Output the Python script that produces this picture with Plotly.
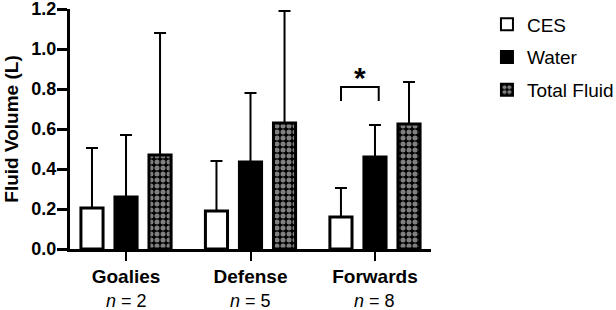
import plotly.graph_objects as go

categories = ["Goalies", "Defense", "Forwards"]
n_labels = ["2", "5", "8"]
ces = [0.205, 0.19, 0.16]
ces_upper = [0.505, 0.44, 0.305]
water = [0.26, 0.435, 0.46]
water_upper = [0.57, 0.78, 0.62]
total = [0.47, 0.63, 0.625]
total_upper = [1.08, 1.19, 0.835]
y_ticks = [0.0, 0.2, 0.4, 0.6, 0.8, 1.0, 1.2]

FONT = "Liberation Sans, Arial, Helvetica, sans-serif"

def err(vals, upper):
    return dict(type="data", symmetric=False,
                array=[u - v for u, v in zip(upper, vals)],
                arrayminus=[0] * len(vals),
                color="black", thickness=2, width=6)

fig = go.Figure()
fig.add_trace(go.Bar(name="CES", x=categories, y=ces, error_y=err(ces, ces_upper),
                     legendgroup="a",
                     marker=dict(color="white", line=dict(color="black", width=3))))
fig.add_trace(go.Bar(name="Water", x=categories, y=water, error_y=err(water, water_upper),
                     legendgroup="b",
                     marker=dict(color="black", line=dict(color="black", width=3))))
fig.add_trace(go.Bar(name="Total Fluid", x=categories, y=total, error_y=err(total, total_upper),
                     legendgroup="c",
                     marker=dict(color="black", line=dict(color="black", width=3),
                                 pattern=dict(shape=".", fgcolor="white", bgcolor="black",
                                              size=6, solidity=0.55))))

# significance bracket between CES and Water of Forwards
fig.add_shape(type="path", xref="x", yref="y",
              path="M 1.727 0.74 L 1.727 0.81 L 2.03 0.81 L 2.03 0.74",
              line=dict(color="black", width=2))
fig.add_annotation(x=1.88, y=0.86, xref="x", yref="y", text="<b>*</b>",
                   showarrow=False, font=dict(size=30, color="black", family=FONT))

# group sizes under category labels
for c, n in zip(categories, n_labels):
    fig.add_annotation(x=c, y=-0.217, xref="x", yref="paper", yanchor="middle",
                       text=f"<i>n</i> = {n}", showarrow=False,
                       font=dict(size=18, color="black", family=FONT))

fig.update_layout(
    width=616, height=310,
    margin=dict(l=70, r=185, t=9, b=61, autoexpand=False),
    paper_bgcolor="white", plot_bgcolor="white",
    barmode="group", bargap=0.18, bargroupgap=0.35,
    font=dict(family=FONT, color="black", size=18),
    showlegend=True,
    legend=dict(x=1.155, y=1.015, xanchor="left", yanchor="top",
                font=dict(size=19, family=FONT), itemsizing="constant",
                traceorder="grouped", tracegroupgap=5,
                bgcolor="rgba(0,0,0,0)"),
)
fig.update_xaxes(
    range=[-0.45, 2.45], automargin=False,
    tickmode="array", tickvals=categories,
    ticktext=[f"<b>{c}</b>" for c in categories],
    showline=True, linecolor="black", linewidth=3,
    ticks="outside", ticklen=9, tickwidth=2, tickcolor="black",
    tickfont=dict(size=19, family=FONT), showgrid=False, zeroline=False,
    ticklabelstandoff=-1, ticklabeloverflow="allow",
)
fig.update_yaxes(
    range=[0, 1.2], automargin=False,
    tickmode="array", tickvals=y_ticks,
    ticktext=[f"<b>{t:.1f}</b>" for t in y_ticks],
    showline=True, linecolor="black", linewidth=3,
    ticks="outside", ticklen=10, tickwidth=3, tickcolor="black",
    tickfont=dict(size=18, family=FONT), showgrid=False, zeroline=False,
    ticklabelstandoff=-3, ticklabeloverflow="allow",
    title=dict(text="<b>Fluid Volume (L)</b>", font=dict(size=19, family=FONT), standoff=8),
)

fig.write_html("out.html", config={"displayModeBar": False},
               post_script="document.body.style.margin='0';document.body.style.overflow='hidden';")
